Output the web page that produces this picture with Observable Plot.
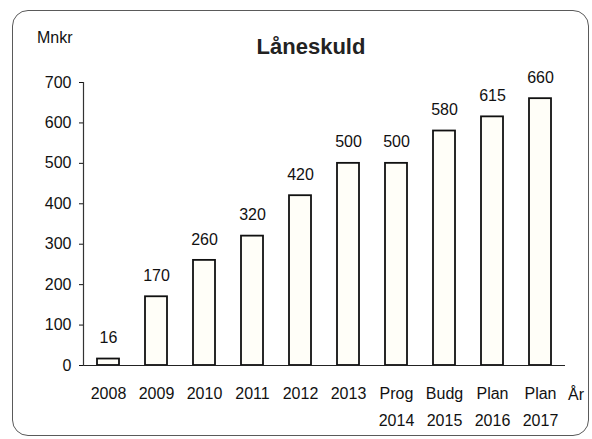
<!DOCTYPE html>
<html>
<head>
<meta charset="utf-8">
<script src="https://cdn.jsdelivr.net/npm/d3@7"></script>
<script src="https://cdn.jsdelivr.net/npm/@observablehq/plot@0.6"></script>
<style>
  html, body { margin: 0; padding: 0; background: #fff; }
  #wrap { position: relative; width: 592px; height: 439px; font-family: "Liberation Sans", Arial, sans-serif; color: #111; }
  #wrap svg { position: absolute; left: 0; top: 0; }
  #border { position: absolute; left: 12px; top: 10px; width: 577px; height: 426px; border: 1.5px solid #5a5a5a; border-radius: 16px; box-sizing: border-box; }
  .lbl { position: absolute; line-height: 1; white-space: nowrap; }
  #title { left: 311px; top: 36px; transform: translateX(-50%); font-size: 22px; font-weight: bold; color: #222; }
  #unit { left: 37px; top: 30px; font-size: 16px; }
  #xlab { left: 568px; top: 387px; font-size: 16px; }
</style>
</head>
<body>
<div id="wrap">
  <div id="border"></div>
  <div id="title" class="lbl">Låneskuld</div>
  <div id="unit" class="lbl">Mnkr</div>
  <div id="xlab" class="lbl">År</div>
</div>
<script>
const categories = ["2008", "2009", "2010", "2011", "2012", "2013", "Prog\n2014", "Budg\n2015", "Plan\n2016", "Plan\n2017"];
const values = [16, 170, 260, 320, 420, 500, 500, 580, 615, 660];
const yTicks = [0, 100, 200, 300, 400, 500, 600, 700];

const data = categories.map((c, i) => ({ cat: c, value: values[i] }));

const chart = Plot.plot({
  width: 592,
  height: 439,
  marginLeft: 83,
  marginRight: 27,
  marginTop: 82,
  marginBottom: 74,
  style: { fontFamily: "'Liberation Sans', Arial, sans-serif", fontSize: "16px", color: "#111", background: "transparent" },
  x: { domain: categories, paddingInner: 0.55, paddingOuter: 0.27 },
  y: { domain: [0, 700] },
  marks: [
    Plot.barY(data, { x: "cat", y: "value", fill: "#fffef8", stroke: "#111", strokeWidth: 1.8 }),
    Plot.ruleY([0], { stroke: "#222", strokeWidth: 1.2 }),
    Plot.frame({ anchor: "left", stroke: "#333", strokeWidth: 1.2 }),
    Plot.axisY({ ticks: yTicks, tickSize: 4, tickPadding: 8, label: null, fontSize: 16 }),
    Plot.axisX({ tickSize: 0, tickPadding: 15, label: null, fontSize: 16, lineHeight: 1.65 }),
    Plot.text(data, { x: "cat", y: "value", text: d => String(d.value), dy: -21, lineAnchor: "middle", fontSize: 16, fill: "#111" })
  ]
});
document.getElementById("wrap").insertBefore(chart, document.getElementById("border"));
</script>
</body>
</html>
